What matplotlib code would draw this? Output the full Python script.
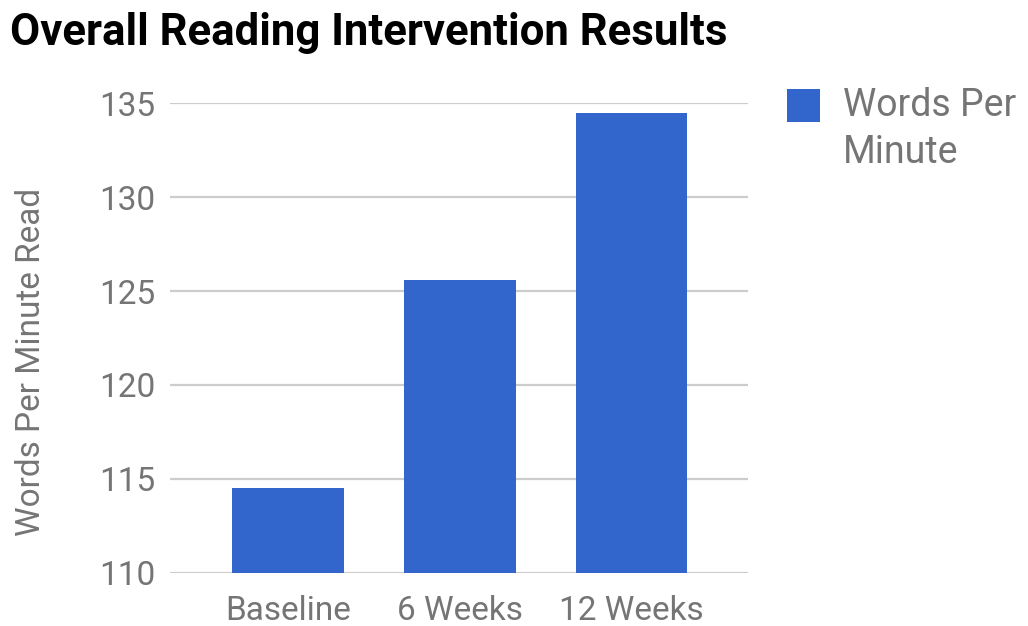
import matplotlib

matplotlib.use("Agg")
import matplotlib.pyplot as plt
from matplotlib.patches import Rectangle

plt.rcParams["font.family"] = ["Roboto", "DejaVu Sans"]

categories = ["Baseline", "6 Weeks", "12 Weeks"]
words_per_minute = [114.5, 125.6, 134.5]
y_ticks = [110, 115, 120, 125, 130, 135]

BAR_COLOR = "#3366cc"
TEXT_GREY = "#757575"
GRID_GREY = "#cccccc"

fig = plt.figure(figsize=(10.28, 6.26), dpi=100)
ax = fig.add_axes([0.165, 0.085, 0.563, 0.750])

x = range(len(categories))
ax.bar(x, words_per_minute, width=0.65, bottom=0, color=BAR_COLOR, zorder=3)

ax.set_ylim(110, 135)
ax.set_xlim(-0.69, 2.68)
ax.set_yticks(y_ticks)
ax.set_xticks(list(x))
ax.set_xticklabels(categories)
ax.tick_params(axis="both", length=0, labelsize=24, colors=TEXT_GREY)
ax.tick_params(axis="y", pad=10)
ax.tick_params(axis="x", pad=16)
ax.yaxis.grid(True, color=GRID_GREY, linewidth=1.6, zorder=0)
ax.set_axisbelow(True)
for spine in ax.spines.values():
    spine.set_visible(False)

ylab = ax.set_ylabel("Words Per Minute Read", fontsize=24, color=TEXT_GREY)
ylab.set_verticalalignment("center")
ax.yaxis.set_label_coords(-0.24, 0.45)

fig.text(0.01, 1 - 33 / 626, "Overall Reading Intervention Results",
         fontsize=31.5, fontweight="bold", color="black", va="center", ha="left")

# legend drawn by hand so the label can wrap onto two lines
fig.patches.append(Rectangle((787 / 1028, 1 - 122 / 626), 33 / 1028, 33 / 626,
                             transform=fig.transFigure, facecolor=BAR_COLOR,
                             edgecolor="none"))
fig.text(843 / 1028, 1 - 129 / 626, "Words Per\nMinute", fontsize=27,
         color=TEXT_GREY, va="center", ha="left", linespacing=1.32)

fig.savefig("out.png", dpi=100)
